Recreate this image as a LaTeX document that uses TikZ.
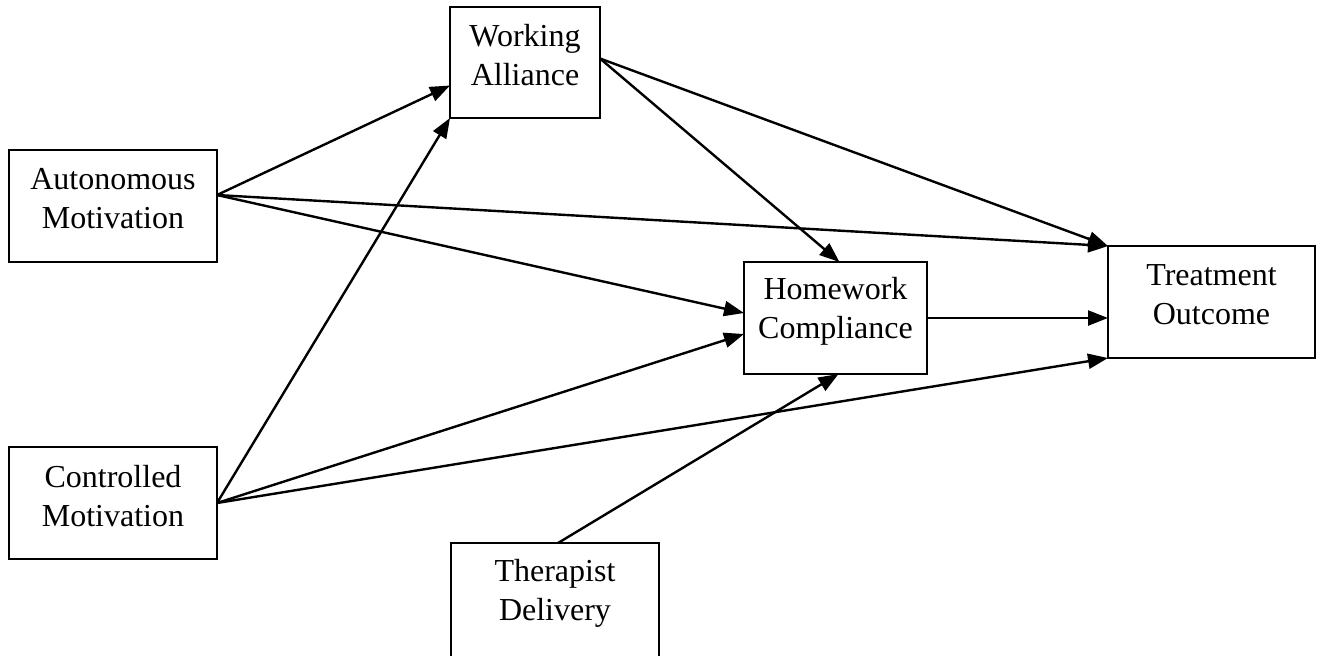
\documentclass[tikz,border=0pt]{standalone}
\usepackage{fontspec}
\setmainfont{Liberation Serif}
\usetikzlibrary{arrows.meta,calc}
\begin{document}
\begin{tikzpicture}[x=0.5pt,y=-0.5pt,
  box/.style={draw,line width=1pt,inner sep=0pt,outer sep=0pt,fill=white},
  lbl/.style={align=center,font=\fontsize{16}{19.5}\selectfont,inner sep=0pt,yshift=3.5pt},
  arr/.style={line width=1.2pt,-{Triangle[length=10pt,width=7.5pt]}}]
\clip (0,0) rectangle (1317,655);
\fill[white] (0,0) rectangle (1317,655);
\node[box,minimum width=75pt,minimum height=55.5pt,label={[lbl]center:Working\\Alliance}] (WA) at (525,62.5) {};
\node[box,minimum width=104pt,minimum height=56pt,label={[lbl]center:Autonomous\\Motivation}] (AM) at (113,206) {};
\node[box,minimum width=104pt,minimum height=56pt,label={[lbl]center:Controlled\\Motivation}] (CM) at (113,503) {};
\node[box,minimum width=91.5pt,minimum height=56pt,label={[lbl]center:Homework\\Compliance}] (HC) at (835.5,318) {};
\node[box,minimum width=103.5pt,minimum height=56pt,label={[lbl]center:Treatment\\Outcome}] (TO) at (1211.5,302) {};
\node[box,minimum width=104pt,minimum height=57pt,label={[lbl]center:Therapist\\Delivery}] (TD) at (555,600) {};
\coordinate (AMs) at ($(AM.east)+(0,-11)$);
\coordinate (WAs) at ($(WA.east)+(0,-4)$);
\draw[arr] (AMs) -- ($(WA.west)+(0,23)$);
\draw[arr] (CM.east) -- (WA.south west);
\draw[arr] (AMs) -- (TO.north west);
\draw[arr] (CM.east) -- (TO.south west);
\draw[arr] (AMs) -- ($(HC.west)+(0,-5)$);
\draw[arr] (CM.east) -- ($(HC.west)+(0,16)$);
\draw[arr] (WAs) -- (TO.north west);
\draw[arr] (WAs) -- ($(HC.north)+(4,0)$);
\draw[arr] (HC.east) -- (HC.east -| TO.west);
\draw[arr] ($(TD.north)+(3,0)$) -- ($(HC.south)+(3,0)$);
\end{tikzpicture}
\end{document}
